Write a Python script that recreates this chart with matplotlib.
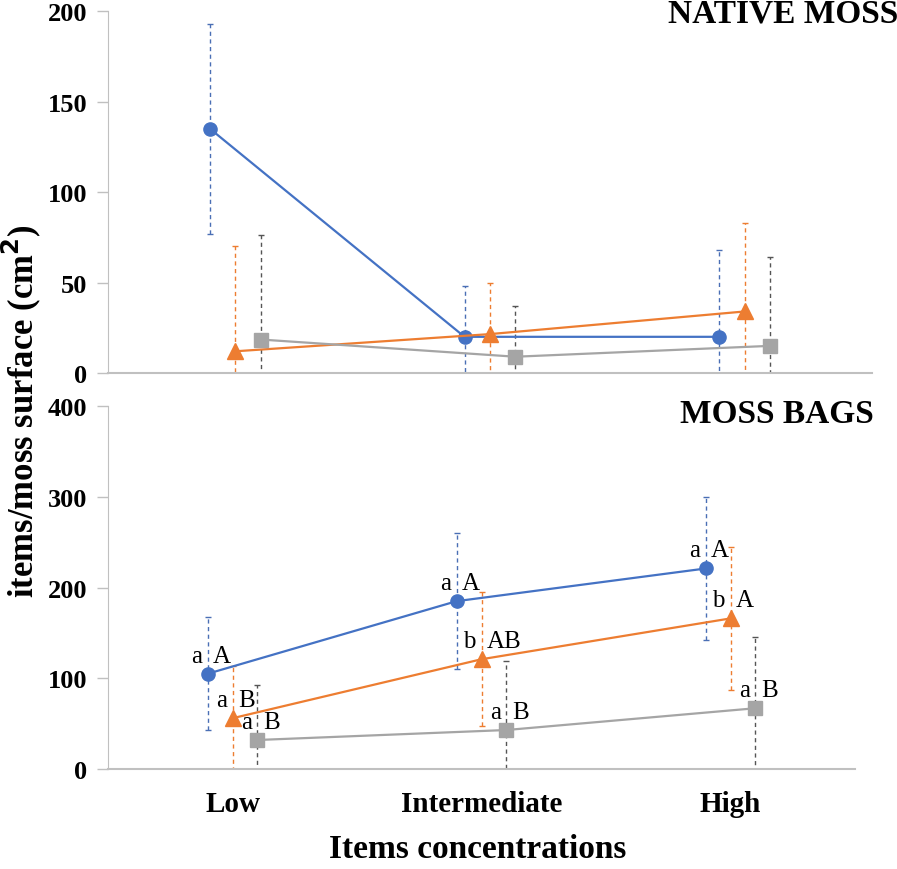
import numpy as np
import matplotlib.pyplot as plt

plt.rcParams['font.family'] = ['Liberation Serif', 'DejaVu Serif']

# categories and series
categories = ['Low', 'Intermediate', 'High']
series_names = ['blue', 'orange', 'gray']

# native moss (top panel): means and error half-widths
native_mean = {'blue': [135, 20, 20], 'orange': [12, 21.5, 34], 'gray': [18.5, 9, 15]}
native_err = {'blue': [58, 28, 48], 'orange': [58, 28, 49], 'gray': [58, 28, 49]}

# moss bags (bottom panel)
bags_mean = {'blue': [105, 185, 221], 'orange': [56, 121, 166], 'gray': [32, 43, 67]}
bags_err = {'blue': [62, 75, 79], 'orange': [58, 74, 79], 'gray': [61, 76, 79]}

# significance letters (lower case, upper case)
bags_letters = {
    'blue': [('a', 'A'), ('a', 'A'), ('a', 'A')],
    'orange': [('a', 'B'), ('b', 'AB'), ('b', 'A')],
    'gray': [('a', 'B'), ('a', 'B'), ('a', 'B')],
}

colors = {'blue': '#4472C4', 'orange': '#ED7D31', 'gray': '#A5A5A5'}
err_colors = {'blue': '#4a6fb5', 'orange': '#ED7D31', 'gray': '#555555'}
markers = {'blue': 'o', 'orange': '^', 'gray': 's'}
msizes = {'blue': 9.5, 'orange': 11, 'gray': 9.5}
offsets = {'blue': -0.1, 'orange': 0.0, 'gray': 0.1}

fig = plt.figure(figsize=(8.97, 8.70), dpi=100)
ax_top = fig.add_axes([0.1204, 0.5701, 0.8517, 0.4161])
ax_bot = fig.add_axes([0.1204, 0.1149, 0.8328, 0.4172])

x = np.arange(len(categories))


def draw(ax, means, errs):
    for s in series_names:
        xs = x + offsets[s]
        eb = ax.errorbar(xs, means[s], yerr=errs[s], fmt='none', ecolor=err_colors[s],
                         elinewidth=1.0, capsize=2, capthick=1.0, zorder=2)
        eb[2][0].set_linestyle((0, (3, 2.5)))
        ax.plot(xs, means[s], color=colors[s], lw=1.6, marker=markers[s],
                ms=msizes[s], markeredgecolor=colors[s], zorder=3)
    ax.set_xlim(-0.5, 2.5)
    for side in ['top', 'right']:
        ax.spines[side].set_visible(False)
    ax.spines['left'].set_color('#c0c0c0')
    ax.spines['bottom'].set_color('#c0c0c0')
    ax.spines['bottom'].set_linewidth(1.5)
    ax.tick_params(axis='y', colors='#c0c0c0', length=8, width=1, labelcolor='black',
                   labelsize=19, pad=7)


draw(ax_top, native_mean, native_err)
ax_top.set_ylim(0, 200)
ax_top.set_yticks([0, 50, 100, 150, 200])
for lab in ax_top.get_yticklabels():
    lab.set_fontweight('bold')
ax_top.set_xticks([])

draw(ax_bot, bags_mean, bags_err)
ax_bot.set_ylim(0, 400)
ax_bot.set_yticks([0, 100, 200, 300, 400])
for lab in ax_bot.get_yticklabels():
    lab.set_fontweight('bold')
ax_bot.set_xticks(x)
ax_bot.set_xticklabels(categories, fontsize=21, fontweight='bold')
ax_bot.tick_params(axis='x', length=0, pad=15)

# letters around the error bars
for s in series_names:
    for i in range(len(categories)):
        lo, up = bags_letters[s][i]
        xi = x[i] + offsets[s]
        yi = bags_mean[s][i]
        ax_bot.annotate(lo, (xi, yi), xytext=(-4, 13), textcoords='offset points',
                        ha='right', va='center', fontsize=18)
        ax_bot.annotate(up, (xi, yi), xytext=(4, 13), textcoords='offset points',
                        ha='left', va='center', fontsize=18)

fig.text(0.745, 0.9736, 'NATIVE MOSS', fontsize=24, fontweight='bold', va='baseline')
fig.text(0.758, 0.5138, 'MOSS BAGS', fontsize=24, fontweight='bold', va='baseline')

fig.text(0.024, 0.527, 'items/moss surface (cm$^\\mathbf{2}$)', rotation=90,
         fontsize=25, fontweight='bold', ha='center', va='center')
fig.text(0.532, 0.014, 'Items concentrations', fontsize=24, fontweight='bold',
         ha='center', va='baseline')

fig.savefig('out.png', dpi=100)
